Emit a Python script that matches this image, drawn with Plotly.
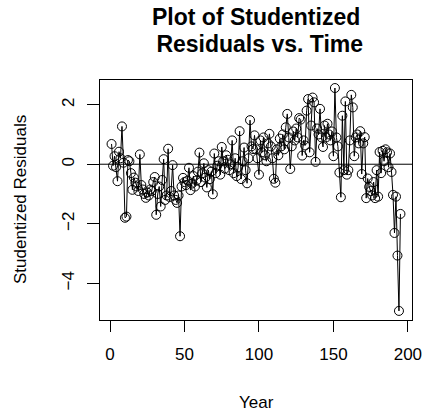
import plotly.graph_objects as go

# Studentized residuals, observations 1..195
resid = [
    0.68, -0.05, 0.27, -0.10, -0.57, 0.42, 0.20, 1.27, 0.05, -1.80,
    -1.76, 0.14, 0.10, -0.30, -0.86, -0.45, -0.62, -0.75, -0.90, 0.33,
    -0.70, -0.85, -1.00, -1.13, -0.95, -1.05, -0.85, -0.90, -0.60, -0.43,
    -1.70, -1.00, -0.75, -1.42, -0.53, 0.17, -1.20, -1.05, 0.52, -1.10,
    -0.90, -0.03, -1.05, -1.20, -1.30, -1.05, -2.42, -0.75, -0.46, -0.60,
    -0.70, -0.55, -0.12, -0.87, -0.65, -0.40, -0.75, -0.55, -0.25, 0.39,
    -0.60, -0.30, 0.03, -0.45, -0.78, -0.20, -0.50, -0.25, -1.01, 0.36,
    -0.30, -0.05, 0.10, -0.35, 0.58, 0.10, -0.15, 0.30, 0.15, -0.20,
    0.00, 0.80, -0.30, 0.20, -0.40, -0.10, 1.11, -0.50, 0.10, 0.56,
    -0.20, -0.64, 0.20, 1.48, 0.60, 0.51, 0.97, 0.50, 0.20, -0.35,
    0.80, 0.40, 0.90, 0.30, 0.10, 0.70, 1.02, 0.60, 0.20, -0.49,
    -0.62, 0.50, 0.30, 0.86, 0.60, 1.00, 0.50, 1.24, 1.69, 0.90,
    -0.16, 0.60, 1.10, 0.80, 1.20, 0.90, 1.55, 1.50, 0.29, 0.80,
    0.63, 1.80, 2.19, 0.40, 1.30, 2.24, 2.08, 0.08, 1.20, 1.00,
    1.86, 0.90, 0.58, 1.30, 0.90, 1.36, 1.00, 0.80, 1.10, 0.27,
    2.56, 0.90, 0.60, -0.28, -1.11, 1.63, -0.20, 2.11, -0.35, -0.20,
    0.80, 2.33, 1.91, 0.27, 0.90, 1.00, 0.70, 1.11, -0.33, 0.70,
    0.91, -1.14, -0.48, -0.76, -0.90, -1.05, -0.60, -1.14, -0.20, -1.09,
    0.41, -0.30, 0.45, 0.10, 0.50, 0.40, -0.10, 0.36, -0.26, -1.03,
    -2.31, -1.09, -3.07, -4.93, -1.67,
]
year = list(range(1, len(resid) + 1))

x_ticks = [0, 50, 100, 150, 200]
y_ticks = [-4, -2, 0, 2]
y_tick_text = ["\u22124", "\u22122", "0", "2"]

FONT = "Liberation Sans, Arial, Helvetica, sans-serif"

fig = go.Figure()
fig.add_trace(go.Scatter(
    x=year, y=resid, mode="lines+markers",
    line=dict(color="black", width=1),
    marker=dict(symbol="circle-open", size=9, color="black", line=dict(width=1, color="black")),
    showlegend=False, hoverinfo="skip",
))

fig.add_shape(type="line", xref="paper", x0=0, x1=1, yref="y", y0=0, y1=0,
              line=dict(color="black", width=1))

fig.update_layout(
    width=425, height=415, autosize=False,
    margin=dict(l=100, r=13, t=80, b=95, pad=0),
    paper_bgcolor="white", plot_bgcolor="white",
    font=dict(family=FONT, size=17, color="black"),
    xaxis=dict(range=[-6.76, 202.76], tickvals=x_ticks, ticks="outside", ticklen=11,
               tickcolor="black", tickwidth=1, showgrid=False, zeroline=False,
               showline=True, linecolor="black", linewidth=1, mirror=True,
               ticklabelstandoff=8, automargin=False,
               tickfont=dict(size=17)),
    yaxis=dict(range=[-5.235, 2.83], tickvals=y_ticks, ticktext=y_tick_text,
               ticks="outside", ticklen=12, tickangle=-90,
               tickcolor="black", tickwidth=1, showgrid=False, zeroline=False,
               showline=True, linecolor="black", linewidth=1, mirror=True,
               ticklabelstandoff=6, automargin=False,
               tickfont=dict(size=17)),
    annotations=[
        dict(text="<b>Plot of Studentized</b>", xref="paper", yref="paper",
             x=0.5, y=(320 - 17) / 240, xanchor="center", yanchor="middle",
             showarrow=False, font=dict(size=23)),
        dict(text="<b>\u00a0Residuals vs. Time</b>", xref="paper", yref="paper",
             x=0.5, y=(320 - 44) / 240, xanchor="center", yanchor="middle",
             showarrow=False, font=dict(size=23)),
        dict(text="Year", xref="paper", yref="paper",
             x=0.5, y=(320 - 402) / 240, xanchor="center", yanchor="middle",
             showarrow=False, font=dict(size=17)),
        dict(text="Studentized Residuals", xref="paper", yref="paper",
             x=(20 - 100) / 312, y=0.5, xanchor="center", yanchor="middle",
             textangle=-90, showarrow=False, font=dict(size=17)),
    ],
)

fig.write_html("out.html")
